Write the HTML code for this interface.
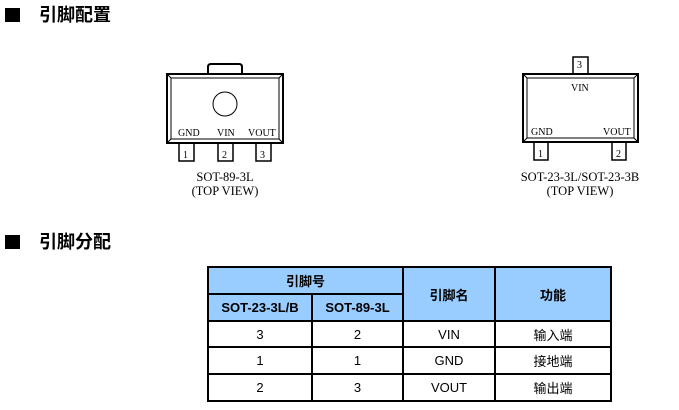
<!DOCTYPE html>
<html><head><meta charset="utf-8"><style>
body{margin:0;width:679px;height:410px;background:#fff;position:relative;overflow:hidden;font-family:"Liberation Sans","Noto Sans CJK SC",sans-serif}
.h{position:absolute;font-size:18px;font-weight:bold;color:#000;line-height:20px}
.sq{position:absolute;left:5px;width:15px;height:14px;background:#000}
table{position:absolute;left:207px;top:266px;border-collapse:collapse;font-size:13px}
td{border:2px solid #000;text-align:center;padding:0}
.b{background:#99ccff;font-weight:bold}
</style></head><body>
<div class="sq" style="top:8px"></div><div class="h" style="left:39px;top:5px">引脚配置</div>
<div class="sq" style="top:235px"></div><div class="h" style="left:39px;top:232px">引脚分配</div>
<svg width="679" height="410" style="position:absolute;left:0;top:0" font-family="Liberation Serif,serif">
<g fill="none" stroke="#000">
<path d="M208 74 V67 Q208 64 211 64 H239 Q242 64 242 67 V74" stroke-width="2"/>
<rect x="167" y="74" width="116" height="69" stroke-width="2"/>
<rect x="171" y="78" width="108" height="61" stroke-width="1"/>
<path d="M167 74 L171 78 M283 74 L279 78 M167 143 L171 139 M283 143 L279 139"/>
<circle cx="225" cy="104" r="12"/>
<rect x="179" y="143" width="15" height="18" stroke-width="1.5"/>
<rect x="218" y="143" width="15" height="18" stroke-width="1.5"/>
<rect x="256" y="143" width="15" height="18" stroke-width="1.5"/>
<rect x="573" y="57" width="15" height="17" stroke-width="1.5"/>
<rect x="523" y="74" width="115" height="68" stroke-width="2"/>
<rect x="527" y="78" width="107" height="60" stroke-width="1"/>
<path d="M523 74 L527 78 M638 74 L634 78 M523 142 L527 138 M638 142 L634 138"/>
<rect x="534" y="142" width="14" height="18" stroke-width="1.5"/>
<rect x="612" y="142" width="14" height="18" stroke-width="1.5"/>
</g>
<g font-size="10" fill="#000">
<text x="178" y="136">GND</text><text x="217" y="136">VIN</text><text x="248" y="136">VOUT</text>
<text x="183" y="158">1</text><text x="222" y="158">2</text><text x="260" y="158">3</text>
<text x="577" y="68">3</text><text x="571" y="91">VIN</text>
<text x="531" y="135">GND</text><text x="603" y="135">VOUT</text>
<text x="538" y="157">1</text><text x="616" y="157">2</text>
</g>
<g font-size="12.5" fill="#000" text-anchor="middle">
<text x="225" y="181">SOT-89-3L</text><text x="225" y="195">(TOP VIEW)</text>
<text x="580" y="181">SOT-23-3L/SOT-23-3B</text><text x="580" y="195">(TOP VIEW)</text>
</g>
</svg>
<table>
<tr style="height:27px"><td class="b" colspan="2">引脚号</td><td class="b" rowspan="2" style="width:90px">引脚名</td><td class="b" rowspan="2" style="width:114px">功能</td></tr>
<tr style="height:27px"><td class="b" style="width:102px">SOT-23-3L/B</td><td class="b" style="width:89px">SOT-89-3L</td></tr>
<tr style="height:26px"><td>3</td><td>2</td><td>VIN</td><td>输入端</td></tr>
<tr style="height:27px"><td>1</td><td>1</td><td>GND</td><td>接地端</td></tr>
<tr style="height:27px"><td>2</td><td>3</td><td>VOUT</td><td>输出端</td></tr>
</table>
</body></html>
